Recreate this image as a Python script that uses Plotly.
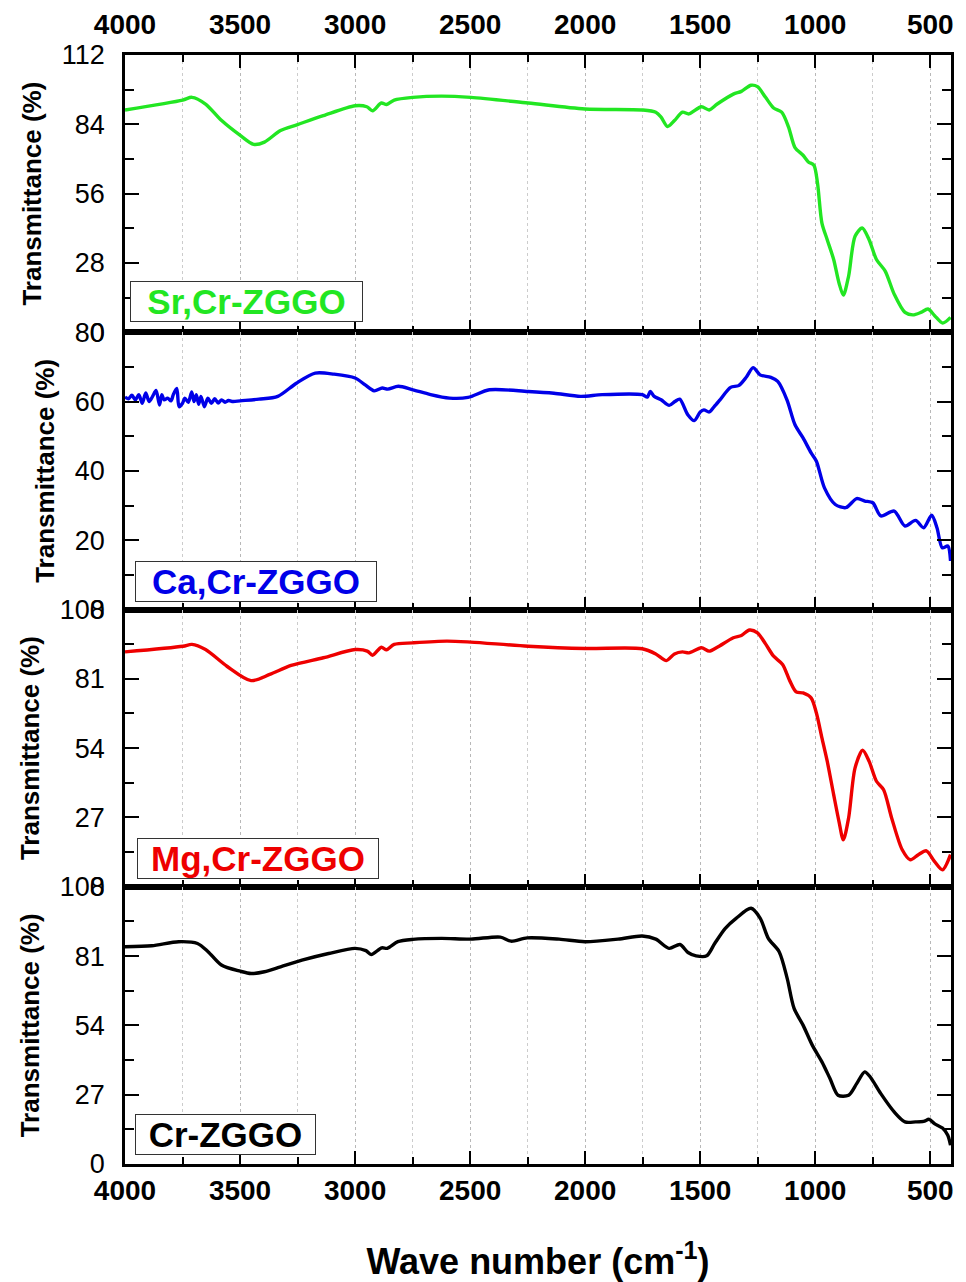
import plotly.graph_objects as go
from plotly.subplots import make_subplots

# ---------------- data ----------------
sr_wn = [4000, 3749, 3709, 3650, 3580, 3499, 3441, 3394, 3324, 3250, 3138, 3000, 2949, 2924,
         2886, 2863, 2830, 2749, 2625, 2497, 2248, 2001, 1752, 1693, 1670, 1642, 1612, 1577,
         1549, 1495, 1461, 1426, 1356, 1321, 1279, 1251, 1216, 1181, 1146, 1116, 1088, 1053,
         1030, 1006, 990, 971, 948, 920, 897, 878, 855, 827, 796, 766, 734, 696, 657, 610,
         576, 541, 510, 481, 446, 412]
sr_t = [89.8, 93.8, 94.9, 92.2, 85.5, 79.5, 75.9, 76.8, 81.5, 83.9, 87.5, 91.5, 91.1, 89.5,
        92.6, 92.0, 93.8, 94.9, 95.4, 94.9, 92.6, 90.2, 89.8, 88.9, 86.9, 83.1, 85.5, 88.9,
        88.2, 91.1, 89.8, 92.2, 96.2, 97.3, 99.8, 99.2, 94.9, 90.6, 88.9, 82.9, 74.6, 71.5,
        68.8, 67.5, 60.1, 44.1, 37.4, 29.4, 20.0, 15.0, 22.7, 38.8, 42.1, 37.4, 29.4, 24.7,
        15.4, 8.0, 7.0, 8.0, 9.4, 6.7, 3.7, 6.0]

ca_wn = [4000, 3985, 3970, 3955, 3940, 3925, 3910, 3895, 3880, 3865, 3850, 3840, 3830, 3815,
         3800, 3790, 3775, 3765, 3750, 3740, 3725, 3710, 3700, 3690, 3680, 3670, 3655, 3640,
         3625, 3610, 3595, 3580, 3565, 3550, 3530, 3500,
         3418, 3336, 3255, 3173, 3091, 3000, 2956, 2917, 2882, 2858, 2812, 2749, 2672, 2590,
         2509, 2416, 2248, 2136, 2020, 1926, 1752, 1730, 1717, 1700, 1670, 1635, 1610, 1589,
         1554, 1526, 1500, 1484, 1461, 1440, 1414, 1368, 1333, 1300, 1270, 1240, 1193, 1163,
         1123, 1088, 1053, 1018, 995, 960, 913, 867, 820, 785, 750, 715, 657, 610, 564, 529,
         494, 471, 448, 424, 412]
ca_t = [61.3, 60.8, 61.8, 60.5, 62.0, 59.5, 62.5, 60.0, 61.5, 63.2, 59.0, 62.0, 60.5, 61.0,
        60.2, 62.0, 63.8, 58.5, 59.5, 61.0, 59.8, 62.8, 60.0, 62.0, 59.2, 61.5, 58.5, 61.0,
        59.5, 60.8, 59.6, 60.5, 59.8, 60.3, 60.0, 60.2,
        60.7, 61.5, 65.3, 68.2, 67.9, 66.8, 64.8, 63.1, 63.9, 63.6, 64.4, 63.4, 62.0, 61.0,
        61.2, 63.4, 62.9, 62.4, 61.5, 62.0, 62.0, 61.3, 62.9, 61.5, 60.5, 58.9, 60.0, 60.7,
        56.2, 54.5, 57.0, 57.6, 57.0, 58.5, 60.5, 64.1, 64.6, 67.0, 69.8, 67.7, 67.0, 65.8,
        60.5, 53.3, 49.5, 45.2, 42.8, 35.1, 30.3, 29.4, 32.0, 31.3, 30.8, 27.0, 28.4, 24.1,
        25.7, 23.6, 27.2, 23.6, 17.8, 18.3, 14.0]

mg_wn = [4000, 3748, 3709, 3650, 3557, 3452, 3371, 3278, 3138, 3000, 2947, 2924, 2886, 2863,
         2830, 2749, 2602, 2497, 2248, 2001, 1752, 1693, 1647, 1612, 1577, 1549, 1495, 1461,
         1426, 1356, 1321, 1286, 1251, 1216, 1181, 1142, 1111, 1083, 1053, 1018, 995, 971,
         948, 920, 897, 878, 855, 827, 794, 766, 734, 703, 668, 622, 587, 552, 517, 482,
         447, 412]
mg_t = [91.5, 93.7, 94.4, 92.4, 85.9, 80.3, 82.7, 86.2, 89.2, 92.4, 91.8, 90.2, 93.3, 92.3,
        94.4, 95.0, 95.7, 95.3, 93.7, 92.8, 92.7, 90.7, 88.1, 90.7, 91.5, 91.1, 93.1, 91.8,
        93.3, 97.0, 97.9, 100.0, 98.9, 94.6, 89.8, 86.6, 80.3, 75.9, 75.5, 73.6, 67.7, 58.0,
        48.9, 35.9, 25.5, 18.3, 26.8, 46.3, 53.2, 48.9, 41.1, 37.8, 26.8, 14.4, 10.5, 12.5,
        14.0, 9.9, 6.6, 12.5]

cr_wn = [4000, 3884, 3767, 3685, 3639, 3581, 3499, 3452, 3394, 3324, 3231, 3115, 3000, 2953,
         2930, 2884, 2860, 2814, 2749, 2625, 2497, 2369, 2322, 2252, 2113, 2001, 1857, 1752,
         1693, 1635, 1588, 1553, 1518, 1472, 1437, 1391, 1344, 1279, 1239, 1204, 1157, 1122,
         1092, 1053, 1013, 971, 936, 901, 855, 820, 785, 761, 715, 657, 610, 564, 529, 505,
         482, 447, 424, 412]
cr_t = [84.6, 85.0, 86.6, 85.9, 82.7, 77.5, 75.1, 74.2, 74.9, 76.8, 79.4, 82.0, 84.0, 83.1,
        81.6, 84.2, 84.0, 86.6, 87.5, 87.9, 87.6, 88.4, 86.8, 88.1, 87.6, 86.6, 87.6, 88.8,
        87.6, 84.0, 85.5, 82.4, 81.1, 81.1, 85.9, 91.8, 95.7, 99.6, 95.7, 87.9, 82.7, 72.3,
        60.6, 54.1, 46.3, 39.8, 33.3, 26.8, 26.8, 31.3, 35.9, 33.9, 27.4, 20.3, 16.4, 16.4,
        16.6, 17.4, 15.7, 14.0, 11.2, 7.3]

sample_names = ["Sr,Cr-ZGGO", "Ca,Cr-ZGGO", "Mg,Cr-ZGGO", "Cr-ZGGO"]
y_max = [112, 80, 108, 108]
y_dtick = [28, 20, 27, 27]
x_tickvals = [4000, 3500, 3000, 2500, 2000, 1500, 1000, 500]
x_ticktext = ["4000", "3500", "3000", "2500", "2000", "1500", "1000", "500"]
X_RANGE = [4000, 410]

# ---------------- styling ----------------
colors = ["#22e622", "#0000e8", "#ee0000", "#000000"]
box_w = [231, 240, 240, 179]
box_x = [0.006, 0.012, 0.014, 0.012]
box_y = [0.036, 0.026, 0.029, 0.032]
FONT = "Liberation Sans, Arial, sans-serif"

series = [(sr_wn, sr_t), (ca_wn, ca_t), (mg_wn, mg_t), (cr_wn, cr_t)]

fig = make_subplots(rows=4, cols=1, shared_xaxes=True, vertical_spacing=0)

for i, (wn, t) in enumerate(series):
    fig.add_trace(go.Scatter(x=wn, y=t, mode="lines", name=sample_names[i],
                             line=dict(color=colors[i], width=3.4, shape="spline", smoothing=0.8),
                             showlegend=False), row=i + 1, col=1)

# invisible trace to host top tick-label axis
fig.add_trace(go.Scatter(x=sr_wn, y=sr_t, xaxis="x5", yaxis="y", mode="lines",
                         line=dict(width=0), opacity=0, hoverinfo="skip", showlegend=False))

for i in range(4):
    r = i + 1
    fig.update_yaxes(row=r, col=1, range=[0, y_max[i]], dtick=y_dtick[i], tick0=0,
                     automargin=False,
                     showline=True, linecolor="black", linewidth=2.5, mirror="ticks",
                     ticks="inside", ticklen=14, tickwidth=2, tickcolor="black",
                     minor=dict(ticks="inside", ticklen=9, tickwidth=2, tickcolor="black",
                                dtick=y_dtick[i] / 2, showgrid=False),
                     showgrid=False, zeroline=False,
                     tickfont=dict(family=FONT, size=27, color="black"),
                     ticklabelstandoff=12,
                     title=dict(text="Transmittance (%)", standoff=13,
                                font=dict(family=FONT, size=26, color="black", weight="bold")))
    fig.update_xaxes(row=r, col=1, range=X_RANGE, tickvals=x_tickvals, ticktext=x_ticktext,
                     automargin=False,
                     showline=True, linecolor="black", linewidth=2.5,
                     mirror="ticks" if r == 1 else True,
                     ticks="inside", ticklen=13, tickwidth=2, tickcolor="black",
                     minor=dict(ticks="inside", ticklen=7, tickwidth=2, tickcolor="black",
                                dtick=250, tick0=0, showgrid=True, gridcolor="#cccccc",
                                griddash="dot", gridwidth=1),
                     showgrid=True, gridcolor="#b8b8b8", griddash="dot", gridwidth=1,
                     zeroline=False,
                     tickfont=dict(family=FONT, size=28, color="black", weight="bold"))
    fig.add_annotation(text=sample_names[i], xref=f"x{'' if r == 1 else r} domain",
                       yref=f"y{'' if r == 1 else r} domain", x=box_x[i], y=box_y[i],
                       xanchor="left", yanchor="bottom", showarrow=False,
                       width=box_w[i], height=39, borderpad=0, bordercolor="#333333",
                       borderwidth=1, bgcolor="white",
                       font=dict(family=FONT, size=35, color=colors[i], weight="bold"))

fig.update_xaxes(row=4, col=1, ticklabelstandoff=0,
                 title=dict(text="Wave number (cm<sup>-1</sup>)", standoff=46,
                            font=dict(family=FONT, size=36, color="black", weight="bold")))

fig.update_layout(
    xaxis5=dict(overlaying="x", anchor="y", side="top", range=X_RANGE, automargin=False,
                tickvals=x_tickvals, ticktext=x_ticktext, showline=False, showgrid=False,
                zeroline=False, ticks="", ticklabelstandoff=14,
                tickfont=dict(family=FONT, size=28, color="black", weight="bold")),
    width=966, height=1282,
    margin=dict(l=125, r=15, t=55, b=118, autoexpand=False),
    plot_bgcolor="white", paper_bgcolor="white",
)

fig.write_html("out.html")
